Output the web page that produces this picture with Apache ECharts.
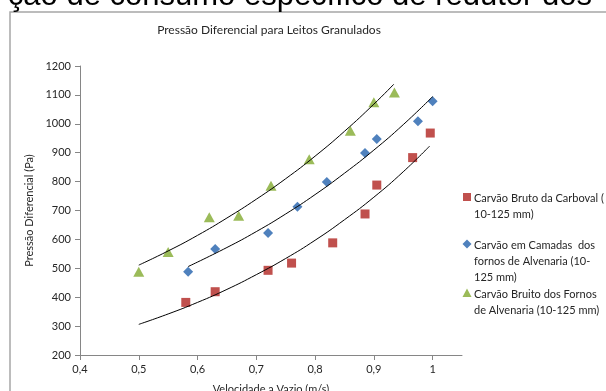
<!DOCTYPE html>
<html>
<head>
<meta charset="utf-8">
<script src="https://cdn.jsdelivr.net/npm/echarts@6/dist/echarts.min.js"></script>
<style>
html,body{margin:0;padding:0;background:#fff;overflow:hidden;}
#c{width:606px;height:391px;}
</style>
</head>
<body>
<div id="c"></div>
<script>
// ---- data ----
var carbovalX = [0.58, 0.63, 0.72, 0.76, 0.83, 0.885, 0.905, 0.966, 0.996];
var carbovalY = [382, 419, 493, 518, 588, 688, 788, 883, 968];
var camadasX  = [0.584, 0.63, 0.72, 0.77, 0.82, 0.885, 0.905, 0.975, 1.0];
var camadasY  = [488, 567, 622, 713, 799, 899, 947, 1009, 1078];
var bruitoX   = [0.50, 0.55, 0.62, 0.67, 0.725, 0.79, 0.86, 0.90, 0.935];
var bruitoY   = [488, 556, 677, 682, 786, 877, 976, 1075, 1108];

// trendlines
var trendCarbovalX = [0.50, 0.55, 0.60, 0.65, 0.70, 0.75, 0.80, 0.85, 0.90, 0.95, 0.995];
var trendCarbovalY = [306, 342, 382, 427, 478, 534, 597, 668, 746, 834, 923];
var trendCamadasX  = [0.584, 0.65, 0.70, 0.75, 0.80, 0.85, 0.90, 0.95, 1.00];
var trendCamadasY  = [506, 572, 627, 688, 755, 829, 909, 997, 1094];
var trendBruitoX   = [0.50, 0.55, 0.60, 0.65, 0.70, 0.75, 0.80, 0.85, 0.90, 0.934];
var trendBruitoY   = [511, 560, 614, 674, 739, 810, 888, 974, 1068, 1137];

var xTicks = [0.4, 0.5, 0.6, 0.7, 0.8, 0.9, 1.0];
var yTicks = [200, 300, 400, 500, 600, 700, 800, 900, 1000, 1100, 1200];

var seriesNames = [
  'Carvão Bruto da Carboval (\n10-125 mm)',
  'Carvão em Camadas  dos\nfornos de Alvenaria (10-\n125 mm)',
  'Carvão Bruito dos Fornos\nde Alvenaria (10-125 mm)'
];
var titleText = 'Pressão Diferencial para Leitos Granulados';
var xName = 'Velocidade a Vazio (m/s)';
var yName = 'Pressão Diferencial (Pa)';
var headerText = 'ção de consumo específico de redutor dos';

function zip(xs, ys){ return xs.map(function(x,i){ return [x, ys[i]]; }); }

var FONT = 'Lato';
var TXT = '#262626';
var cRed = '#C0504D', cBlue = '#4F81BD', cGreen = '#9BBB59';

var chart = echarts.init(document.getElementById('c'), null, {renderer:'canvas'});
chart.setOption({
  animation: false,
  backgroundColor: '#ffffff',
  grid: {left: 80, right: 144, top: 66, bottom: 36, containLabel: false, outerBoundsMode: 'none'},
  xAxis: {
    type: 'value', min: 0.4, max: 1.05, interval: 0.1,
    name: xName, nameLocation: 'middle', nameGap: 29,
    nameTextStyle: {fontFamily: FONT, fontSize: 11, color: TXT},
    axisLine: {show: true, onZero: false, lineStyle: {color: '#868686', width: 1}},
    axisTick: {show: true, length: 5, lineStyle: {color: '#868686'}, customValues: xTicks},
    axisLabel: {fontFamily: FONT, fontSize: 11, color: TXT, margin: 9, customValues: xTicks,
      formatter: function(v){ return String(Math.round(v*10)/10).replace('.', ','); }},
    splitLine: {show: false}
  },
  yAxis: {
    type: 'value', min: 200, max: 1200, interval: 100,
    name: yName, nameLocation: 'middle', nameGap: 43, nameRotate: 90,
    nameTextStyle: {fontFamily: FONT, fontSize: 11, color: TXT},
    axisLine: {show: true, lineStyle: {color: '#868686', width: 1}},
    axisTick: {show: true, length: 5, lineStyle: {color: '#868686'}, customValues: yTicks},
    axisLabel: {fontFamily: FONT, fontSize: 11, color: TXT, margin: 9, customValues: yTicks,
      formatter: function(v){ return String(Math.round(v)); }},
    splitLine: {show: false}
  },
  graphic: [
    {type: 'rect', shape: {x: 10, y: 12, width: 620, height: 400},
     style: {fill: 'none', stroke: '#a6a6a6', lineWidth: 1.5}, z: -1, silent: true},
    {type: 'text', x: 592, y: -4,
     style: {text: headerText, font: '31px "Liberation Sans"', fill: '#000', align: 'right', verticalAlign: 'middle'}},
    {type: 'text', x: 269, y: 30,
     style: {text: titleText, font: '12px Lato', fill: TXT, align: 'center', verticalAlign: 'middle'}},
    // legend
    {type: 'rect', shape: {x: 463, y: 193, width: 8, height: 8}, style: {fill: cRed}},
    {type: 'text', x: 474, y: 190, style: {text: seriesNames[0], font: '11px Lato', fill: TXT, lineHeight: 16, verticalAlign: 'top'}},
    {type: 'polygon', shape: {points: [[467,239.5],[471.5,244],[467,248.5],[462.5,244]]}, style: {fill: cBlue}},
    {type: 'text', x: 474, y: 237, style: {text: seriesNames[1], font: '11px Lato', fill: TXT, lineHeight: 16, verticalAlign: 'top'}},
    {type: 'polygon', shape: {points: [[467,288.5],[471.5,297],[462.5,297]]}, style: {fill: cGreen}},
    {type: 'text', x: 474, y: 286, style: {text: seriesNames[2], font: '11px Lato', fill: TXT, lineHeight: 16, verticalAlign: 'top'}}
  ],
  series: [
    {name: seriesNames[0], type: 'scatter', symbol: 'rect', symbolSize: 9, itemStyle: {color: cRed, opacity: 1}, data: zip(carbovalX, carbovalY), z: 2},
    {name: seriesNames[1], type: 'scatter', symbol: 'diamond', symbolSize: [10, 10], itemStyle: {color: cBlue, opacity: 1}, data: zip(camadasX, camadasY), z: 2},
    {name: seriesNames[2], type: 'scatter', symbol: 'triangle', symbolSize: [11, 10], itemStyle: {color: cGreen, opacity: 1}, data: zip(bruitoX, bruitoY), z: 2},
    {type: 'line', smooth: true, showSymbol: false, silent: true, lineStyle: {color: '#000', width: 1}, data: zip(trendCarbovalX, trendCarbovalY), z: 3},
    {type: 'line', smooth: true, showSymbol: false, silent: true, lineStyle: {color: '#000', width: 1}, data: zip(trendCamadasX, trendCamadasY), z: 3},
    {type: 'line', smooth: true, showSymbol: false, silent: true, lineStyle: {color: '#000', width: 1}, data: zip(trendBruitoX, trendBruitoY), z: 3}
  ]
});
</script>
</body>
</html>
